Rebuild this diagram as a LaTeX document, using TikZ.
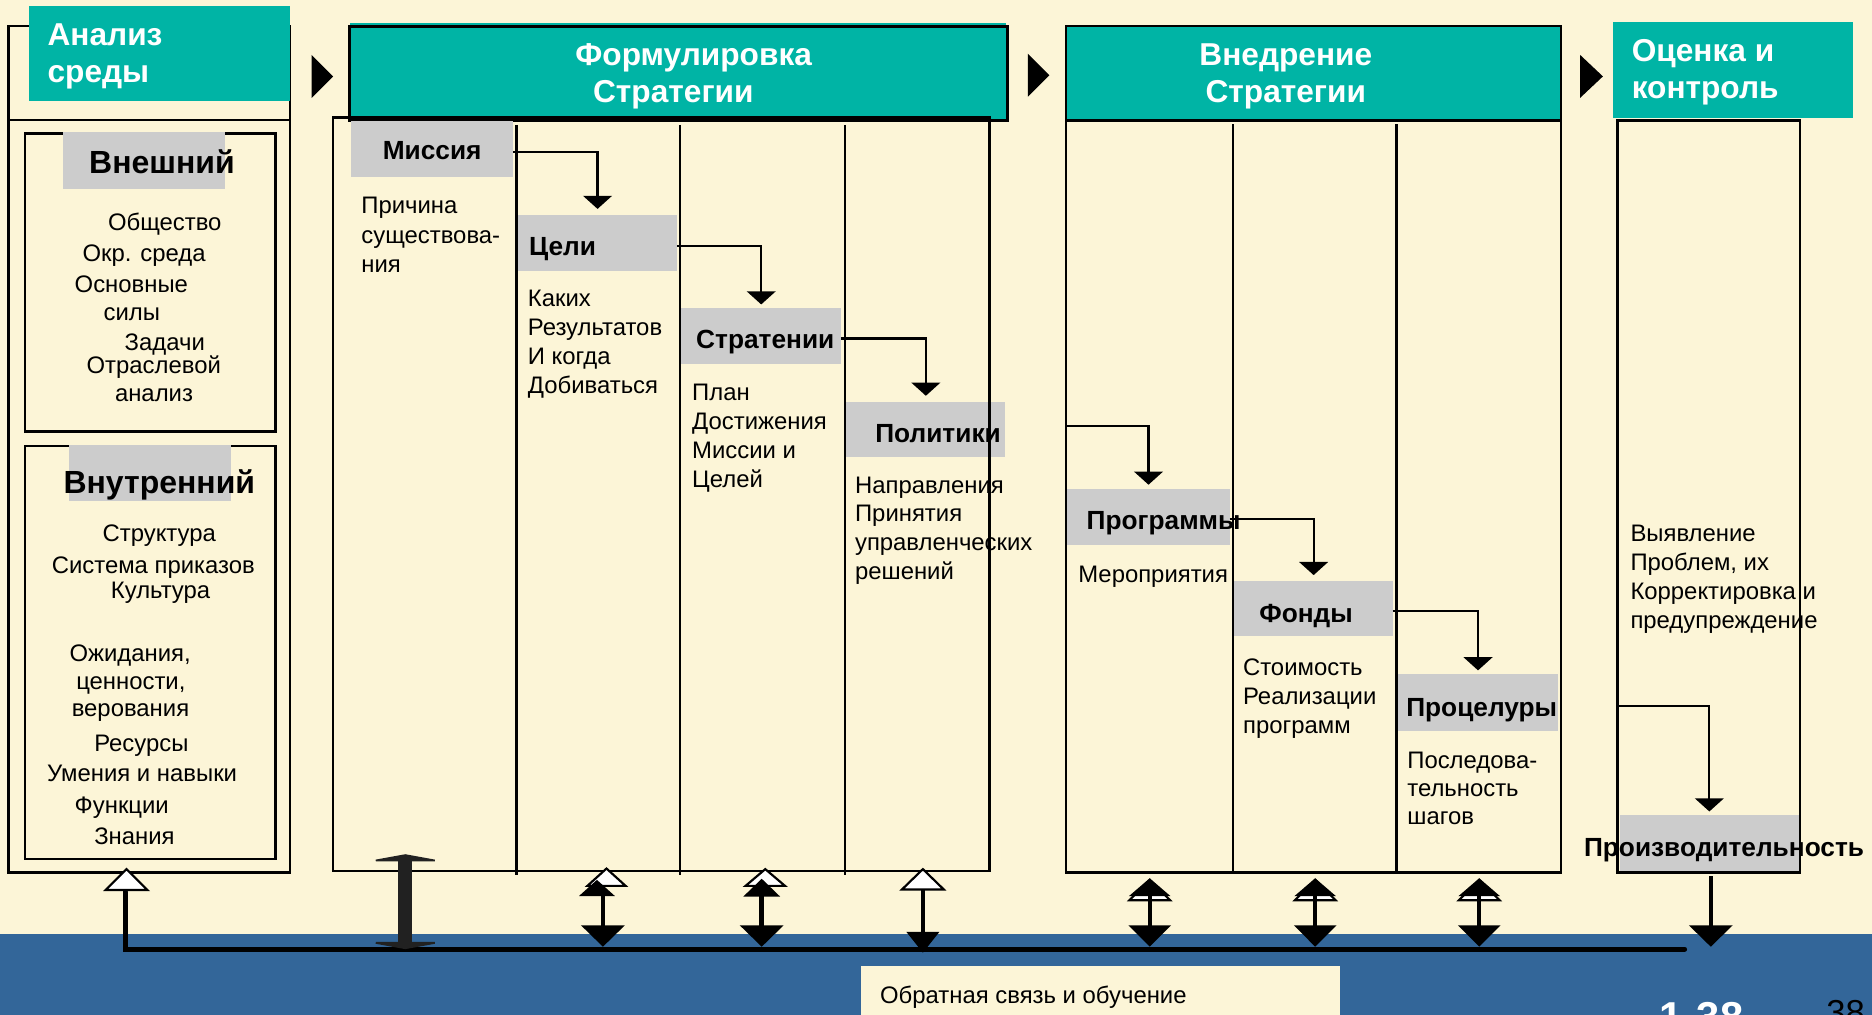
\documentclass[tikz,border=0pt]{standalone}
\usepackage{fontspec}
\setmainfont{Liberation Sans}
\usetikzlibrary{arrows.meta}
\definecolor{cream}{RGB}{252,245,215}
\definecolor{tealh}{RGB}{0,180,165}
\definecolor{greyl}{RGB}{204,204,204}
\definecolor{bandblue}{RGB}{51,102,153}
\tikzset{
  rectat/.style 2 args={minimum width=#1, minimum height=#2, anchor=north west, inner sep=0pt, outer sep=0pt},
  frame/.style={draw=black, line width=2.2pt},
  greybox/.style={fill=greyl},
  tealbox/.style={fill=tealh},
  divider/.style={draw=black, line width=1.8pt},
  hdr/.style={text=white, font=\fontsize{26.5}{31}\selectfont\bfseries, inner sep=0pt},
  lbl/.style={font=\fontsize{22}{26}\selectfont\bfseries, inner sep=0pt},
  biglbl/.style={font=\fontsize{26.8}{30}\selectfont\bfseries, inner sep=0pt},
  itm/.style={font=\fontsize{20}{24}\selectfont, inner sep=0pt, anchor=base},
  para/.style={font=\fontsize{20}{24.2}\selectfont, inner sep=0pt, anchor=north west, align=left, execute at begin node={\rule{0pt}{18pt}}},
  conn/.style={draw=black, line width=1.8pt, -{Triangle[width=24pt,length=11pt]}},
  otri/.style={draw=black, fill=white, line width=1.8pt, line join=miter},
  dbl/.style={draw=black, line width=3.8pt, {Triangle[width=30pt,length=15pt]}-{Triangle[width=36pt,length=18pt]}},
  dbltwo/.style={draw=black, line width=3.6pt, {Triangle[width=34pt,length=15pt]}-{Triangle[width=35pt,length=18pt]}},
  down/.style={draw=black, line width=3.5pt, -{Triangle[width=36pt,length=18pt]}},
  thick/.style={draw=black!87, line width=12pt, {Triangle[width=66pt,length=6pt]}-{Triangle[width=66pt,length=6pt]}},
  fbline/.style={draw=black, line width=4.2pt, line cap=round, line join=miter},
}
\begin{document}
\begin{tikzpicture}[x=1pt,y=-1pt]
\useasboundingbox (0,0) rectangle (1568,850);
\fill[cream] (0,0) rectangle (1568,850);
\fill[bandblue] (0,782) rectangle (1568,850);

% ---------- Section 1: environment analysis
\node[rectat={235.7pt}{709.2pt}, frame] (envbox) at (7.3,21.8) {};
\draw[frame] (envbox.west |- 0,100.5) -- (envbox.east |- 0,100.5);
\node[rectat={218.8pt}{80pt}, tealbox] (envhead) at (24.2,5) {};
\node[hdr, anchor=base west] (envt1) at (39.7,38.2) {Анализ};
\node[hdr, anchor=base west] (envt2) at (39.7,69) {среды};

\node[rectat={210pt}{249.9pt}, frame] (extbox) at (21,111.7) {};
\node[rectat={135.8pt}{47.4pt}, greybox] (extlbl) at (52.7,110.6) {};
\node[biglbl, anchor=base west] (extt) at (74.5,145) {Внешний};
\node[itm] (e1) at (138,193) {Общество};
\node[itm] (e2) at (120.7,219) {Окр. среда};
\node[itm] (e3) at (110,245) {Основные};
\node[itm] (e4) at (110.4,268.2) {силы};
\node[itm] (e5) at (138,294) {Задачи};
\node[itm] (e6) at (128.8,313) {Отраслевой};
\node[itm] (e7) at (129,336) {анализ};

\node[rectat={210pt}{345.9pt}, frame] (intbox) at (21,373.6) {};
\node[rectat={135.4pt}{47.5pt}, greybox] (intlbl) at (58,372.5) {};
\node[biglbl, anchor=base west] (intt) at (53,413) {Внутренний};
\node[itm] (i1) at (133.4,453.7) {Структура};
\node[itm] (i2) at (128.4,480) {Система приказов};
\node[itm] (i3) at (134.5,501) {Культура};
\node[itm] (i4) at (109,554) {Ожидания,};
\node[itm] (i5) at (109.6,577.5) {ценности,};
\node[itm] (i6) at (109.3,600.2) {верования};
\node[itm] (i7) at (118.4,629.6) {Ресурсы};
\node[itm] (i8) at (119,654.7) {Умения и навыки};
\node[itm] (i9) at (102,681) {Функции};
\node[itm] (i10) at (112.6,707.3) {Знания};

% ---------- Section 2: formulation
\fill[tealh] (293,19) rectangle (843,30);
\node[rectat={551pt}{79pt}, tealbox, frame] (formhead) at (293,22) {};
\node[hdr, anchor=base] (formt1) at (581,55) {Формулировка};
\node[hdr, anchor=base] (formt2) at (564,85.7) {Стратегии};

\node[rectat={136pt}{47pt}, greybox] (mission) at (294,101) {};
\node[rectat={133pt}{46.7pt}, greybox] (goals) at (434,180) {};
\node[rectat={134pt}{47pt}, greybox] (strat) at (570.6,258) {};
\node[rectat={133pt}{46.5pt}, greybox] (policy) at (709,336.5) {};

\node[rectat={549.6pt}{631pt}, frame] (formbody) at (279,98.6) {};
\draw[divider] (432.6,104.7) -- (432.6,733);
\draw[divider] (569.6,104.7) -- (569.6,733);
\draw[divider] (707.6,104.7) -- (707.6,733);

\node[lbl, anchor=base] (missiont) at (362,134) {Миссия};
\node[lbl, anchor=base west] (goalst) at (443,214) {Цели};
\node[lbl, anchor=base] (stratt) at (641,292) {Стратении};
\node[lbl, anchor=base west] (policyt) at (733,371) {Политики};

\node[para, font=\fontsize{20}{25}\selectfont] (missiond) at (302.5,164.7) {Причина\\существова-\\ния};
\node[para] (goalsd) at (442,243) {Каких\\Результатов\\И когда\\Добиваться};
\node[para] (stratd) at (579.6,321.5) {План\\Достижения\\Миссии и\\Целей};
\node[para] (policyd) at (716,399) {Направления\\Принятия\\управленческих\\решений};

\draw[conn] ([yshift=-3pt]mission.east) -| ([yshift=5pt]goals.north);
\draw[conn] ([yshift=-2.5pt]goals.east) -| ([yshift=3pt]strat.north);
\draw[conn] ([yshift=-2pt]strat.east) -| ([yshift=5pt]policy.north);

% ---------- Section 3: implementation
\node[rectat={414.6pt}{79.2pt}, tealbox, frame] (implhead) at (893,21.8) {};
\node[hdr, anchor=base] (implt1) at (1077,55) {Внедрение};
\node[hdr, anchor=base] (implt2) at (1077,85.7) {Стратегии};

\node[rectat={136pt}{46.5pt}, greybox] (prog) at (894,410) {};
\node[rectat={132.6pt}{46.3pt}, greybox] (funds) at (1034,486.7) {};
\node[rectat={134pt}{47.5pt}, greybox] (proc) at (1171,564.5) {};

\node[rectat={414.6pt}{630pt}, frame] (implbody) at (893,101) {};
\draw[divider] (1032.4,104) -- (1032.4,731);
\draw[divider] (1169.7,104) -- (1169.7,731);

\node[lbl, anchor=base west] (progt) at (910,443.5) {Программы};
\node[lbl, anchor=base] (fundst) at (1094,521.5) {Фонды};
\node[lbl, anchor=base west] (proct) at (1177.7,600) {Процелуры};

\node[para] (progd) at (903,470) {Мероприятия};
\node[para] (fundsd) at (1041,551.4) {Стоимость\\Реализации\\программ};
\node[para, font=\fontsize{20}{23.7}\selectfont] (procd) at (1178.6,629.6) {Последова-\\тельность\\шагов};

\coordinate (implIn) at (893,357);
\draw[conn] (implIn) -| ([yshift=4pt]prog.north);
\draw[conn] ([yshift=-1.3pt]prog.east) -| ([yshift=5pt]funds.north);
\draw[conn] ([yshift=-2pt]funds.east) -| ([yshift=3pt]proc.north);

% ---------- Section 4: evaluation
\node[rectat={201pt}{80pt}, tealbox] (evalhead) at (1351,18.7) {};
\node[hdr, anchor=base west] (evalt1) at (1366.6,51.5) {Оценка и};
\node[hdr, anchor=base west] (evalt2) at (1366.6,82.5) {контроль};
\node[rectat={149.5pt}{48.3pt}, greybox] (perf) at (1357,682.7) {};
\node[rectat={152.8pt}{630pt}, frame] (evalbody) at (1355,101) {};
\node[para] (evald) at (1365.5,439.6) {Выявление\\Проблем, их\\Корректировка и\\предупреждение};
\node[lbl, anchor=base west] (perft) at (1326.6,717.5) {Производительность};
\coordinate (evalIn) at (1355,591);
\draw[conn] (evalIn) -| ([yshift=3pt]perf.north);

% ---------- arrows between sections
\fill (261,46) -- (279,64) -- (261,82) -- cycle;
\fill (861,45) -- (879,63) -- (861,81) -- cycle;
\fill (1323.5,46) -- (1342.6,64) -- (1323.5,82) -- cycle;

% ---------- feedback
\coordinate (fbL) at (105,795);
\coordinate (fbR) at (1411,795);
\coordinate (envIn) at (105,747);
\draw[fbline] (fbR) -- (fbL) -- (envIn);
\draw[otri] (106,728) -- (123.5,745.5) -- (88.5,745.5) -- cycle;

\coordinate (thkTop) at (339.5,715.5);
\coordinate (thkBot) at (339.5,795);
\draw[thick] (thkTop) -- (thkBot);

\draw[otri] (508,727.5) -- (524,742) -- (492,742) -- cycle;
\coordinate (gA) at (500,737);
\fill (gA) -- (515,750.5) -- (485,750.5) -- cycle;
\coordinate (gC) at (505,748); \coordinate (gD) at (505,793);
\draw[draw=black, line width=3.8pt, -{Triangle[width=36pt,length=18pt]}] (gC) -- (gD);
\draw[otri] (641,728) -- (657.5,742) -- (624.5,742) -- cycle;
\coordinate (sA) at (638,736); \coordinate (sB) at (638,793);
\draw[dbl] (sA) -- (sB);
\coordinate (pA) at (773,745); \coordinate (pB) at (773,798);
\draw[otri] (773,728) -- (790.5,745) -- (755.5,745) -- cycle;
\draw[draw=black, line width=3pt, -{Triangle[width=27pt,length=17.5pt]}] (pA) -- (pB);

\foreach \xx/\nm in {963/a, 1101.6/b, 1239/c}{
  \draw[otri] (\xx,737) -- ({\xx+17},754) -- ({\xx-17},754) -- cycle;
  \coordinate (im\nm1) at (\xx,735.6);
  \coordinate (im\nm2) at (\xx,793);
  \draw[dbltwo] (im\nm1) -- (im\nm2);
}
\draw[down] ([xshift=1.2pt,yshift=-3pt]perf.south) -- ++(0,59);

\node[rectat={401.5pt}{45pt}, fill=cream] (fblabel) at (721,809) {};
\node[itm, anchor=base west] (fbt) at (737,840.5) {Обратная связь и обучение};

\node[font=\fontsize{35}{40}\selectfont\bfseries, text=white, inner sep=0pt, anchor=base west] (pg1) at (1390,864) {1-38};
\node[font=\fontsize{29}{34}\selectfont, text=black, inner sep=0pt, anchor=base west] (pg2) at (1529.6,858.4) {38};
\end{tikzpicture}
\end{document}
